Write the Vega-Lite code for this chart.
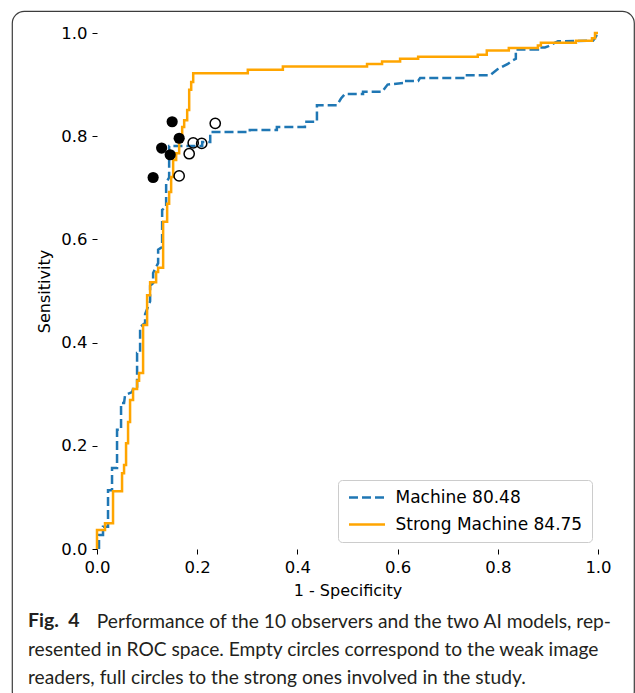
{
  "$schema": "https://vega.github.io/schema/vega-lite/v6.json",
  "width": 622,
  "height": 692,
  "autosize": {"type": "none"},
  "padding": {"left": 12, "top": 11, "right": 1, "bottom": -10},
  "background": "white",
  "config": {
    "view": {"stroke": "#3c3c3c", "strokeWidth": 1.2, "cornerRadius": 12, "fill": "white"},
    "axis": {
      "domain": false,
      "grid": false,
      "ticks": true,
      "tickColor": "black",
      "tickSize": 5,
      "tickWidth": 1,
      "labelFont": "DejaVu Sans",
      "labelFontSize": 16.5,
      "labelColor": "black",
      "labelPadding": 5,
      "labelFlush": false,
      "labelOverlap": false,
      "titleFont": "DejaVu Sans",
      "titleFontSize": 16,
      "titleFontWeight": "normal",
      "titleColor": "black"
    },
    "legend": {
      "strokeColor": "#cccccc",
      "fillColor": "white",
      "cornerRadius": 4,
      "padding": 9,
      "symbolType": "M-3,0H3",
      "symbolSize": 144,
      "symbolStrokeWidth": 2.5,
      "symbolOffset": 11.5,
      "labelFont": "DejaVu Sans",
      "labelFontSize": 17,
      "labelColor": "black",
      "labelOffset": 20,
      "labelLimit": 400,
      "rowPadding": 9
    }
  },
  "title": {
    "text": "Fig.\u00a0\u00a04",
    "subtitle": [
      "\u200b\u00a0\u00a0\u00a0\u00a0\u00a0\u00a0\u00a0\u00a0\u00a0\u00a0\u00a0\u00a0\u00a0\u00a0Performance of the 10 observers and the two AI models, rep-",
      "resented in ROC space. Empty circles correspond to the weak image",
      "readers, full circles to the strong ones involved in the study."
    ],
    "orient": "bottom",
    "anchor": "start",
    "frame": "group",
    "offset": -91,
    "dx": 16,
    "baseline": "top",
    "font": "Lato",
    "fontSize": 19.5,
    "fontWeight": "bold",
    "color": "#231f20",
    "subtitleFont": "Lato",
    "subtitleFontSize": 19.2,
    "subtitleFontWeight": "normal",
    "subtitleColor": "#231f20",
    "subtitleLineHeight": 28,
    "subtitlePadding": -18.5
  },
  "datasets": {
    "roc": [
      {"model": "Machine 80.48", "fpr": 0.004, "tpr": 0.0},
      {"model": "Machine 80.48", "fpr": 0.004, "tpr": 0.027},
      {"model": "Machine 80.48", "fpr": 0.012, "tpr": 0.027},
      {"model": "Machine 80.48", "fpr": 0.012, "tpr": 0.043},
      {"model": "Machine 80.48", "fpr": 0.022, "tpr": 0.043},
      {"model": "Machine 80.48", "fpr": 0.022, "tpr": 0.114},
      {"model": "Machine 80.48", "fpr": 0.03, "tpr": 0.114},
      {"model": "Machine 80.48", "fpr": 0.03, "tpr": 0.157},
      {"model": "Machine 80.48", "fpr": 0.04, "tpr": 0.157},
      {"model": "Machine 80.48", "fpr": 0.04, "tpr": 0.231},
      {"model": "Machine 80.48", "fpr": 0.048, "tpr": 0.231},
      {"model": "Machine 80.48", "fpr": 0.048, "tpr": 0.283},
      {"model": "Machine 80.48", "fpr": 0.054, "tpr": 0.283},
      {"model": "Machine 80.48", "fpr": 0.056, "tpr": 0.298},
      {"model": "Machine 80.48", "fpr": 0.07, "tpr": 0.304},
      {"model": "Machine 80.48", "fpr": 0.072, "tpr": 0.31},
      {"model": "Machine 80.48", "fpr": 0.08, "tpr": 0.31},
      {"model": "Machine 80.48", "fpr": 0.08, "tpr": 0.38},
      {"model": "Machine 80.48", "fpr": 0.086, "tpr": 0.38},
      {"model": "Machine 80.48", "fpr": 0.086, "tpr": 0.43},
      {"model": "Machine 80.48", "fpr": 0.096, "tpr": 0.438},
      {"model": "Machine 80.48", "fpr": 0.096, "tpr": 0.455},
      {"model": "Machine 80.48", "fpr": 0.106, "tpr": 0.48},
      {"model": "Machine 80.48", "fpr": 0.106, "tpr": 0.51},
      {"model": "Machine 80.48", "fpr": 0.112, "tpr": 0.515},
      {"model": "Machine 80.48", "fpr": 0.112, "tpr": 0.535},
      {"model": "Machine 80.48", "fpr": 0.122, "tpr": 0.554},
      {"model": "Machine 80.48", "fpr": 0.122, "tpr": 0.58},
      {"model": "Machine 80.48", "fpr": 0.13, "tpr": 0.585},
      {"model": "Machine 80.48", "fpr": 0.13, "tpr": 0.657},
      {"model": "Machine 80.48", "fpr": 0.138, "tpr": 0.663},
      {"model": "Machine 80.48", "fpr": 0.138, "tpr": 0.71},
      {"model": "Machine 80.48", "fpr": 0.144, "tpr": 0.72},
      {"model": "Machine 80.48", "fpr": 0.144, "tpr": 0.781},
      {"model": "Machine 80.48", "fpr": 0.21, "tpr": 0.781},
      {"model": "Machine 80.48", "fpr": 0.21, "tpr": 0.789},
      {"model": "Machine 80.48", "fpr": 0.226, "tpr": 0.789},
      {"model": "Machine 80.48", "fpr": 0.226, "tpr": 0.808},
      {"model": "Machine 80.48", "fpr": 0.305, "tpr": 0.808},
      {"model": "Machine 80.48", "fpr": 0.305, "tpr": 0.812},
      {"model": "Machine 80.48", "fpr": 0.359, "tpr": 0.812},
      {"model": "Machine 80.48", "fpr": 0.359, "tpr": 0.818},
      {"model": "Machine 80.48", "fpr": 0.415, "tpr": 0.818},
      {"model": "Machine 80.48", "fpr": 0.415, "tpr": 0.828},
      {"model": "Machine 80.48", "fpr": 0.439, "tpr": 0.828},
      {"model": "Machine 80.48", "fpr": 0.439, "tpr": 0.86},
      {"model": "Machine 80.48", "fpr": 0.479, "tpr": 0.86},
      {"model": "Machine 80.48", "fpr": 0.487, "tpr": 0.873},
      {"model": "Machine 80.48", "fpr": 0.495, "tpr": 0.882},
      {"model": "Machine 80.48", "fpr": 0.531, "tpr": 0.882},
      {"model": "Machine 80.48", "fpr": 0.531, "tpr": 0.886},
      {"model": "Machine 80.48", "fpr": 0.569, "tpr": 0.886},
      {"model": "Machine 80.48", "fpr": 0.58, "tpr": 0.9},
      {"model": "Machine 80.48", "fpr": 0.611, "tpr": 0.903},
      {"model": "Machine 80.48", "fpr": 0.611, "tpr": 0.907},
      {"model": "Machine 80.48", "fpr": 0.641, "tpr": 0.907},
      {"model": "Machine 80.48", "fpr": 0.645, "tpr": 0.913},
      {"model": "Machine 80.48", "fpr": 0.731, "tpr": 0.913},
      {"model": "Machine 80.48", "fpr": 0.731, "tpr": 0.918},
      {"model": "Machine 80.48", "fpr": 0.784, "tpr": 0.918},
      {"model": "Machine 80.48", "fpr": 0.8, "tpr": 0.93},
      {"model": "Machine 80.48", "fpr": 0.82, "tpr": 0.94},
      {"model": "Machine 80.48", "fpr": 0.828, "tpr": 0.946},
      {"model": "Machine 80.48", "fpr": 0.836, "tpr": 0.95},
      {"model": "Machine 80.48", "fpr": 0.836, "tpr": 0.968},
      {"model": "Machine 80.48", "fpr": 0.88, "tpr": 0.968},
      {"model": "Machine 80.48", "fpr": 0.88, "tpr": 0.972},
      {"model": "Machine 80.48", "fpr": 0.894, "tpr": 0.972},
      {"model": "Machine 80.48", "fpr": 0.9, "tpr": 0.974},
      {"model": "Machine 80.48", "fpr": 0.92, "tpr": 0.984},
      {"model": "Machine 80.48", "fpr": 0.99, "tpr": 0.985},
      {"model": "Machine 80.48", "fpr": 0.994, "tpr": 0.99},
      {"model": "Machine 80.48", "fpr": 1.0, "tpr": 1.0},
      {"model": "Strong Machine 84.75", "fpr": 0.0, "tpr": 0.0},
      {"model": "Strong Machine 84.75", "fpr": 0.0, "tpr": 0.037},
      {"model": "Strong Machine 84.75", "fpr": 0.016, "tpr": 0.037},
      {"model": "Strong Machine 84.75", "fpr": 0.016, "tpr": 0.05},
      {"model": "Strong Machine 84.75", "fpr": 0.032, "tpr": 0.05},
      {"model": "Strong Machine 84.75", "fpr": 0.032, "tpr": 0.112},
      {"model": "Strong Machine 84.75", "fpr": 0.05, "tpr": 0.112},
      {"model": "Strong Machine 84.75", "fpr": 0.05, "tpr": 0.147},
      {"model": "Strong Machine 84.75", "fpr": 0.054, "tpr": 0.147},
      {"model": "Strong Machine 84.75", "fpr": 0.054, "tpr": 0.163},
      {"model": "Strong Machine 84.75", "fpr": 0.058, "tpr": 0.163},
      {"model": "Strong Machine 84.75", "fpr": 0.058, "tpr": 0.205},
      {"model": "Strong Machine 84.75", "fpr": 0.062, "tpr": 0.205},
      {"model": "Strong Machine 84.75", "fpr": 0.062, "tpr": 0.246},
      {"model": "Strong Machine 84.75", "fpr": 0.066, "tpr": 0.246},
      {"model": "Strong Machine 84.75", "fpr": 0.066, "tpr": 0.289},
      {"model": "Strong Machine 84.75", "fpr": 0.072, "tpr": 0.289},
      {"model": "Strong Machine 84.75", "fpr": 0.072, "tpr": 0.31},
      {"model": "Strong Machine 84.75", "fpr": 0.08, "tpr": 0.31},
      {"model": "Strong Machine 84.75", "fpr": 0.08, "tpr": 0.326},
      {"model": "Strong Machine 84.75", "fpr": 0.084, "tpr": 0.326},
      {"model": "Strong Machine 84.75", "fpr": 0.084, "tpr": 0.341},
      {"model": "Strong Machine 84.75", "fpr": 0.092, "tpr": 0.341},
      {"model": "Strong Machine 84.75", "fpr": 0.092, "tpr": 0.434},
      {"model": "Strong Machine 84.75", "fpr": 0.1, "tpr": 0.434},
      {"model": "Strong Machine 84.75", "fpr": 0.1, "tpr": 0.492},
      {"model": "Strong Machine 84.75", "fpr": 0.106, "tpr": 0.492},
      {"model": "Strong Machine 84.75", "fpr": 0.106, "tpr": 0.517},
      {"model": "Strong Machine 84.75", "fpr": 0.118, "tpr": 0.517},
      {"model": "Strong Machine 84.75", "fpr": 0.118, "tpr": 0.537},
      {"model": "Strong Machine 84.75", "fpr": 0.122, "tpr": 0.537},
      {"model": "Strong Machine 84.75", "fpr": 0.122, "tpr": 0.545},
      {"model": "Strong Machine 84.75", "fpr": 0.132, "tpr": 0.545},
      {"model": "Strong Machine 84.75", "fpr": 0.132, "tpr": 0.634},
      {"model": "Strong Machine 84.75", "fpr": 0.14, "tpr": 0.634},
      {"model": "Strong Machine 84.75", "fpr": 0.14, "tpr": 0.669},
      {"model": "Strong Machine 84.75", "fpr": 0.144, "tpr": 0.669},
      {"model": "Strong Machine 84.75", "fpr": 0.144, "tpr": 0.692},
      {"model": "Strong Machine 84.75", "fpr": 0.148, "tpr": 0.692},
      {"model": "Strong Machine 84.75", "fpr": 0.148, "tpr": 0.721},
      {"model": "Strong Machine 84.75", "fpr": 0.152, "tpr": 0.721},
      {"model": "Strong Machine 84.75", "fpr": 0.152, "tpr": 0.754},
      {"model": "Strong Machine 84.75", "fpr": 0.158, "tpr": 0.754},
      {"model": "Strong Machine 84.75", "fpr": 0.158, "tpr": 0.767},
      {"model": "Strong Machine 84.75", "fpr": 0.164, "tpr": 0.767},
      {"model": "Strong Machine 84.75", "fpr": 0.164, "tpr": 0.793},
      {"model": "Strong Machine 84.75", "fpr": 0.17, "tpr": 0.793},
      {"model": "Strong Machine 84.75", "fpr": 0.17, "tpr": 0.818},
      {"model": "Strong Machine 84.75", "fpr": 0.174, "tpr": 0.818},
      {"model": "Strong Machine 84.75", "fpr": 0.174, "tpr": 0.831},
      {"model": "Strong Machine 84.75", "fpr": 0.18, "tpr": 0.831},
      {"model": "Strong Machine 84.75", "fpr": 0.18, "tpr": 0.851},
      {"model": "Strong Machine 84.75", "fpr": 0.184, "tpr": 0.851},
      {"model": "Strong Machine 84.75", "fpr": 0.184, "tpr": 0.89},
      {"model": "Strong Machine 84.75", "fpr": 0.188, "tpr": 0.89},
      {"model": "Strong Machine 84.75", "fpr": 0.188, "tpr": 0.905},
      {"model": "Strong Machine 84.75", "fpr": 0.192, "tpr": 0.905},
      {"model": "Strong Machine 84.75", "fpr": 0.192, "tpr": 0.922},
      {"model": "Strong Machine 84.75", "fpr": 0.301, "tpr": 0.922},
      {"model": "Strong Machine 84.75", "fpr": 0.301, "tpr": 0.929},
      {"model": "Strong Machine 84.75", "fpr": 0.371, "tpr": 0.929},
      {"model": "Strong Machine 84.75", "fpr": 0.371, "tpr": 0.935},
      {"model": "Strong Machine 84.75", "fpr": 0.539, "tpr": 0.935},
      {"model": "Strong Machine 84.75", "fpr": 0.539, "tpr": 0.94},
      {"model": "Strong Machine 84.75", "fpr": 0.569, "tpr": 0.94},
      {"model": "Strong Machine 84.75", "fpr": 0.569, "tpr": 0.945},
      {"model": "Strong Machine 84.75", "fpr": 0.605, "tpr": 0.945},
      {"model": "Strong Machine 84.75", "fpr": 0.605, "tpr": 0.95},
      {"model": "Strong Machine 84.75", "fpr": 0.641, "tpr": 0.95},
      {"model": "Strong Machine 84.75", "fpr": 0.641, "tpr": 0.954},
      {"model": "Strong Machine 84.75", "fpr": 0.76, "tpr": 0.954},
      {"model": "Strong Machine 84.75", "fpr": 0.76, "tpr": 0.958},
      {"model": "Strong Machine 84.75", "fpr": 0.778, "tpr": 0.958},
      {"model": "Strong Machine 84.75", "fpr": 0.778, "tpr": 0.966},
      {"model": "Strong Machine 84.75", "fpr": 0.822, "tpr": 0.966},
      {"model": "Strong Machine 84.75", "fpr": 0.822, "tpr": 0.971},
      {"model": "Strong Machine 84.75", "fpr": 0.88, "tpr": 0.971},
      {"model": "Strong Machine 84.75", "fpr": 0.88, "tpr": 0.976},
      {"model": "Strong Machine 84.75", "fpr": 0.886, "tpr": 0.976},
      {"model": "Strong Machine 84.75", "fpr": 0.886, "tpr": 0.981},
      {"model": "Strong Machine 84.75", "fpr": 0.956, "tpr": 0.981},
      {"model": "Strong Machine 84.75", "fpr": 0.956, "tpr": 0.985},
      {"model": "Strong Machine 84.75", "fpr": 0.988, "tpr": 0.985},
      {"model": "Strong Machine 84.75", "fpr": 0.988, "tpr": 0.99},
      {"model": "Strong Machine 84.75", "fpr": 0.994, "tpr": 0.99},
      {"model": "Strong Machine 84.75", "fpr": 0.994, "tpr": 1.0},
      {"model": "Strong Machine 84.75", "fpr": 1.0, "tpr": 1.0}
    ],
    "observers": [
      {"reader": "strong", "fpr": 0.15, "tpr": 0.828},
      {"reader": "strong", "fpr": 0.164, "tpr": 0.796},
      {"reader": "strong", "fpr": 0.129, "tpr": 0.777},
      {"reader": "strong", "fpr": 0.146, "tpr": 0.764},
      {"reader": "strong", "fpr": 0.112, "tpr": 0.72},
      {"reader": "weak", "fpr": 0.236, "tpr": 0.825},
      {"reader": "weak", "fpr": 0.192, "tpr": 0.787},
      {"reader": "weak", "fpr": 0.209, "tpr": 0.786},
      {"reader": "weak", "fpr": 0.184, "tpr": 0.766},
      {"reader": "weak", "fpr": 0.164, "tpr": 0.723}
    ]
  },
  "encoding": {
    "x": {
      "field": "fpr",
      "type": "quantitative",
      "scale": {"domain": [0, 1], "range": [85, 586]},
      "axis": {"title": "1 - Specificity", "values": [0, 0.2, 0.4, 0.6, 0.8, 1], "format": ".1f", "offset": -154, "titlePadding": 7}
    },
    "y": {
      "field": "tpr",
      "type": "quantitative",
      "scale": {"domain": [0, 1], "range": [538, 22]},
      "axis": {"title": "Sensitivity", "values": [0, 0.2, 0.4, 0.6, 0.8, 1], "format": ".1f", "offset": -85, "titlePadding": 8}
    }
  },
  "layer": [
    {
      "data": {"name": "roc"},
      "mark": {"type": "line", "strokeWidth": 2.5, "interpolate": "linear"},
      "encoding": {
        "order": {"value": null},
        "color": {
          "field": "model",
          "type": "nominal",
          "scale": {"domain": ["Machine 80.48", "Strong Machine 84.75"], "range": ["#1f77b4", "#ffa500"]},
          "legend": {"title": null, "orient": "none", "legendX": 326, "legendY": 469}
        },
        "strokeDash": {
          "field": "model",
          "type": "nominal",
          "scale": {"domain": ["Machine 80.48", "Strong Machine 84.75"], "range": [[9, 4], [1, 0]]},
          "legend": {"title": null, "orient": "none", "legendX": 326, "legendY": 469}
        }
      }
    },
    {
      "data": {"values": [{}]},
      "mark": {"type": "rect", "filled": false, "stroke": "black", "strokeWidth": 1},
      "encoding": {
        "x": {"datum": 0, "type": "quantitative"},
        "x2": {"datum": 1},
        "y": {"datum": 0, "type": "quantitative"},
        "y2": {"datum": 1}
      }
    },
    {
      "data": {"name": "observers"},
      "transform": [{"filter": "datum.reader === 'strong'"}],
      "mark": {"type": "circle", "size": 125, "color": "black", "opacity": 1}
    },
    {
      "data": {"name": "observers"},
      "transform": [{"filter": "datum.reader === 'weak'"}],
      "mark": {"type": "point", "shape": "circle", "size": 105, "filled": false, "stroke": "black", "strokeWidth": 1.5, "opacity": 1}
    }
  ]
}
